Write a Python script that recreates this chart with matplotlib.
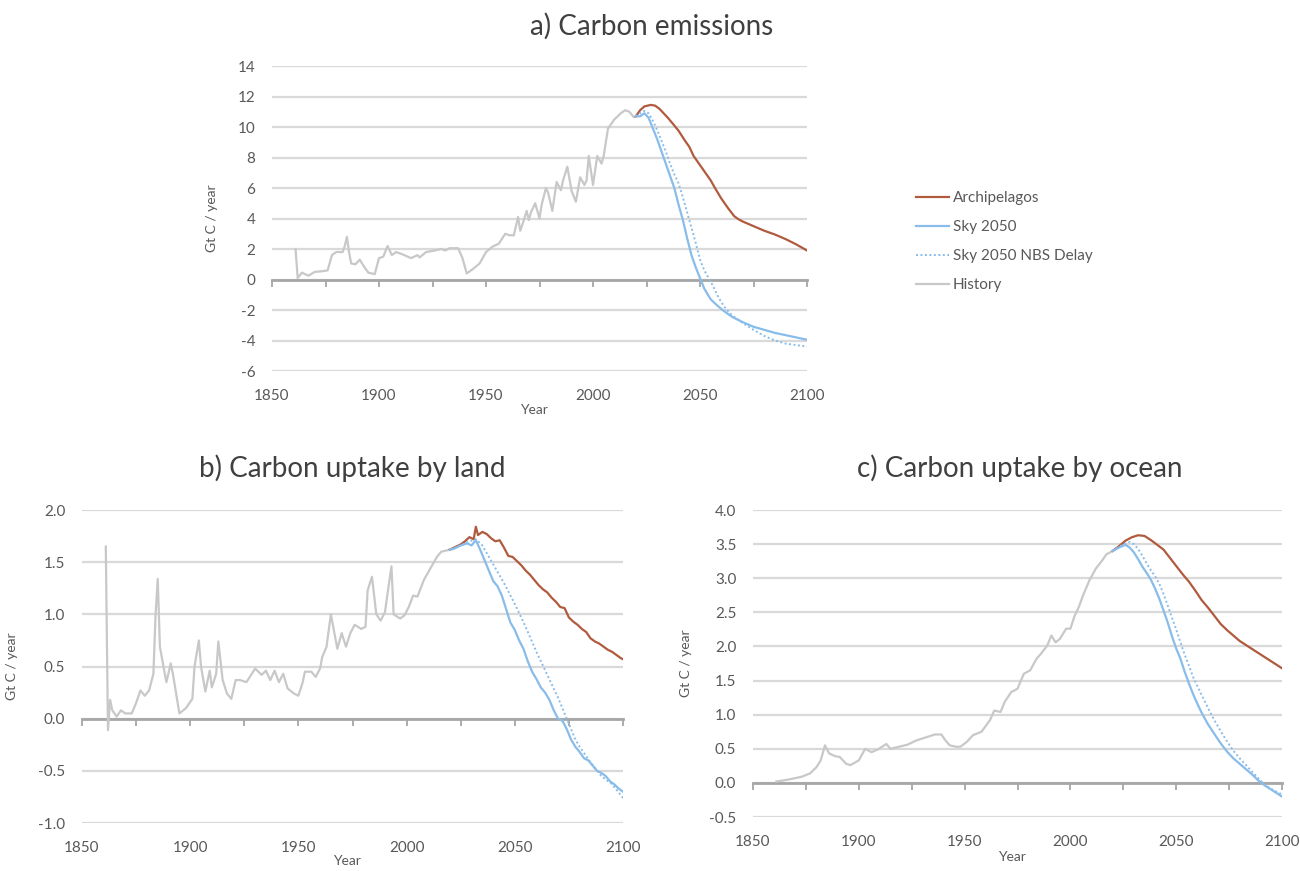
import matplotlib
matplotlib.use('Agg')
import matplotlib.pyplot as plt
from matplotlib.ticker import MultipleLocator, FormatStrFormatter
from matplotlib.lines import Line2D

plt.rcParams['font.family'] = ['Lato', 'DejaVu Sans']
plt.rcParams['axes.unicode_minus'] = False

# ---------------- data: a) Carbon emissions ----------------
hist_a_years = [1861, 1862, 1864, 1867, 1870, 1874, 1876, 1878, 1880, 1883, 1884, 1885, 1886, 1887,
                1889, 1891, 1893, 1895, 1898, 1900, 1902, 1904, 1906, 1908, 1911, 1915, 1918, 1919,
                1922, 1926, 1929, 1931, 1933, 1937, 1939, 1941, 1944, 1947, 1950, 1953, 1956, 1959,
                1961, 1963, 1964, 1965, 1966, 1967, 1969, 1970, 1971, 1973, 1975, 1976, 1978, 1979,
                1981, 1983, 1985, 1986, 1988, 1990, 1992, 1994, 1996, 1997, 1998, 2000, 2002, 2004,
                2005, 2007, 2010, 2013, 2015, 2017, 2019, 2020]
hist_a = [2.0, 0.1, 0.45, 0.25, 0.5, 0.55, 0.6, 1.6, 1.8, 1.8, 2.2, 2.8, 1.8, 1.05,
          1.0, 1.3, 0.85, 0.45, 0.35, 1.4, 1.5, 2.2, 1.6, 1.8, 1.65, 1.4, 1.6, 1.45,
          1.8, 1.9, 2.0, 1.9, 2.05, 2.05, 1.4, 0.4, 0.7, 1.05, 1.8, 2.15, 2.35, 3.0,
          2.9, 2.9, 3.5, 4.1, 3.2, 3.6, 4.5, 3.9, 4.4, 5.0, 4.0, 4.9, 6.0, 5.7,
          4.5, 6.4, 5.85, 6.5, 7.4, 5.8, 5.1, 6.7, 6.2, 6.5, 8.1, 6.2, 8.1, 7.6,
          8.1, 9.9, 10.5, 10.9, 11.1, 11.0, 10.65, 10.7]

arch_a_years = [2020, 2022, 2024, 2027, 2029, 2031, 2033, 2035, 2038, 2040, 2043, 2045, 2047, 2050,
                2053, 2055, 2057, 2060, 2063, 2066, 2068, 2070, 2075, 2080, 2085, 2090, 2095, 2100]
arch_a = [10.7, 11.1, 11.35, 11.45, 11.4, 11.2, 10.9, 10.6, 10.1, 9.75, 9.1, 8.7, 8.1, 7.5,
          6.9, 6.5, 6.0, 5.3, 4.7, 4.15, 3.95, 3.8, 3.5, 3.2, 2.95, 2.65, 2.3, 1.9]

sky_a_years = [2020, 2022, 2024, 2026, 2028, 2030, 2032, 2034, 2036, 2038, 2040, 2042, 2044, 2046,
               2048, 2050, 2052, 2055, 2058, 2061, 2065, 2070, 2075, 2080, 2085, 2090, 2095, 2100]
sky_a = [10.7, 10.7, 10.9, 10.6, 9.9, 9.2, 8.4, 7.6, 6.8, 6.0, 4.9, 3.9, 2.7, 1.6,
         0.8, 0.1, -0.6, -1.3, -1.7, -2.05, -2.45, -2.8, -3.1, -3.3, -3.5, -3.65, -3.8, -3.95]

nbs_a_years = [2020, 2022, 2024, 2026, 2028, 2030, 2032, 2034, 2036, 2038, 2040, 2042, 2044, 2046,
               2048, 2050, 2052, 2054, 2056, 2058, 2060, 2062, 2065, 2070, 2075, 2080, 2085, 2090,
               2095, 2100]
nbs_a = [10.7, 10.9, 11.05, 10.9, 10.4, 9.8, 9.1, 8.4, 7.6, 6.9, 6.3, 5.4, 4.4, 3.4,
         2.4, 1.3, 0.6, 0.1, -0.4, -1.0, -1.5, -1.9, -2.35, -2.85, -3.3, -3.7, -4.0, -4.2,
         -4.3, -4.4]

# ---------------- data: b) Carbon uptake by land ----------------
hist_b_years = [1861, 1862, 1863, 1864, 1866, 1868, 1870, 1873, 1875, 1877, 1879, 1881, 1883, 1884,
                1885, 1886, 1888, 1889, 1891, 1892, 1895, 1898, 1901, 1902, 1904, 1905, 1907, 1909,
                1910, 1912, 1913, 1915, 1917, 1919, 1921, 1923, 1926, 1930, 1933, 1935, 1937, 1939,
                1941, 1943, 1945, 1948, 1950, 1952, 1953, 1956, 1958, 1960, 1961, 1963, 1965, 1967,
                1968, 1970, 1972, 1974, 1976, 1979, 1981, 1982, 1984, 1986, 1988, 1990, 1991, 1993,
                1994, 1997, 1999, 2001, 2003, 2005, 2008, 2011, 2014, 2016, 2020]
hist_b = [1.65, -0.11, 0.18, 0.08, 0.02, 0.08, 0.05, 0.05, 0.15, 0.27, 0.22, 0.27, 0.43, 1.0,
          1.34, 0.69, 0.46, 0.35, 0.53, 0.43, 0.05, 0.1, 0.19, 0.5, 0.75, 0.5, 0.26, 0.46,
          0.3, 0.43, 0.74, 0.37, 0.24, 0.19, 0.37, 0.37, 0.35, 0.48, 0.42, 0.46, 0.37, 0.46,
          0.35, 0.43, 0.29, 0.24, 0.22, 0.35, 0.45, 0.45, 0.4, 0.48, 0.59, 0.69, 1.0, 0.78,
          0.67, 0.82, 0.69, 0.82, 0.9, 0.86, 0.88, 1.23, 1.36, 1.0, 0.94, 1.02, 1.17, 1.46,
          1.0, 0.96, 0.99, 1.07, 1.18, 1.17, 1.33, 1.44, 1.55, 1.6, 1.62]

arch_b_years = [2020, 2022, 2025, 2027, 2029, 2031, 2032, 2033, 2035, 2037, 2039, 2041, 2043, 2045,
                2047, 2049, 2051, 2053, 2055, 2057, 2059, 2061, 2063, 2065, 2067, 2069, 2071, 2073,
                2075, 2077, 2079, 2081, 2083, 2085, 2087, 2089, 2091, 2093, 2095, 2097, 2099, 2100]
arch_b = [1.62, 1.64, 1.67, 1.70, 1.74, 1.72, 1.84, 1.76, 1.79, 1.77, 1.73, 1.70, 1.71, 1.64,
          1.56, 1.55, 1.51, 1.47, 1.42, 1.38, 1.33, 1.28, 1.24, 1.21, 1.16, 1.12, 1.07, 1.06,
          0.97, 0.93, 0.90, 0.86, 0.83, 0.77, 0.74, 0.72, 0.69, 0.66, 0.64, 0.61, 0.58, 0.57]

sky_b_years = [2020, 2022, 2025, 2028, 2030, 2032, 2034, 2036, 2038, 2040, 2042, 2044, 2046, 2048,
               2050, 2052, 2054, 2056, 2058, 2060, 2062, 2064, 2066, 2068, 2070, 2072, 2074, 2076,
               2078, 2080, 2082, 2084, 2086, 2088, 2090, 2092, 2094, 2096, 2098, 2100]
sky_b = [1.62, 1.63, 1.66, 1.68, 1.66, 1.71, 1.62, 1.52, 1.42, 1.32, 1.27, 1.18, 1.05, 0.92,
         0.85, 0.75, 0.67, 0.55, 0.45, 0.38, 0.30, 0.25, 0.18, 0.08, 0.0, -0.02, -0.10, -0.20,
         -0.27, -0.32, -0.38, -0.40, -0.45, -0.50, -0.52, -0.55, -0.60, -0.63, -0.67, -0.70]

nbs_b_years = [2020, 2025, 2029, 2032, 2035, 2040, 2045, 2050, 2055, 2060, 2065, 2070, 2073, 2075,
               2078, 2080, 2085, 2090, 2095, 2100]
nbs_b = [1.62, 1.66, 1.70, 1.72, 1.66, 1.48, 1.30, 1.10, 0.88, 0.64, 0.42, 0.20, 0.05, -0.05,
         -0.20, -0.27, -0.42, -0.55, -0.63, -0.76]

# ---------------- data: c) Carbon uptake by ocean ----------------
hist_c_years = [1861, 1867, 1873, 1877, 1880, 1882, 1884, 1886, 1889, 1891, 1894, 1896, 1900, 1903,
                1906, 1909, 1911, 1913, 1915, 1919, 1923, 1927, 1932, 1936, 1939, 1941, 1943, 1946,
                1948, 1951, 1954, 1958, 1962, 1964, 1967, 1969, 1972, 1975, 1978, 1981, 1984, 1986,
                1989, 1991, 1993, 1995, 1998, 2000, 2002, 2004, 2006, 2009, 2012, 2015, 2017, 2020]
hist_c = [0.02, 0.05, 0.09, 0.14, 0.23, 0.33, 0.55, 0.43, 0.39, 0.38, 0.28, 0.26, 0.33, 0.50,
          0.45, 0.49, 0.53, 0.57, 0.50, 0.53, 0.56, 0.62, 0.67, 0.71, 0.71, 0.62, 0.55, 0.53,
          0.53, 0.60, 0.70, 0.75, 0.92, 1.06, 1.04, 1.19, 1.33, 1.38, 1.60, 1.65, 1.82, 1.89,
          2.01, 2.16, 2.06, 2.11, 2.26, 2.26, 2.45, 2.58, 2.75, 2.97, 3.14, 3.26, 3.35, 3.40]

arch_c_years = [2020, 2023, 2026, 2029, 2032, 2035, 2038, 2041, 2044, 2047, 2050, 2053, 2056, 2059,
                2062, 2065, 2068, 2071, 2074, 2077, 2080, 2083, 2086, 2089, 2092, 2095, 2098, 2100]
arch_c = [3.40, 3.47, 3.55, 3.60, 3.63, 3.62, 3.56, 3.49, 3.42, 3.30, 3.18, 3.06, 2.95, 2.82,
          2.68, 2.57, 2.45, 2.33, 2.24, 2.16, 2.08, 2.02, 1.96, 1.90, 1.84, 1.78, 1.72, 1.68]

sky_c_years = [2020, 2023, 2026, 2028, 2030, 2032, 2034, 2036, 2038, 2040, 2042, 2044, 2046, 2048,
               2050, 2052, 2054, 2056, 2058, 2060, 2062, 2065, 2068, 2071, 2074, 2077, 2080, 2083,
               2086, 2089, 2092, 2095, 2098, 2100]
sky_c = [3.40, 3.45, 3.49, 3.45, 3.38, 3.28, 3.17, 3.08, 2.98, 2.85, 2.70, 2.53, 2.35, 2.15,
         1.97, 1.82, 1.63, 1.46, 1.30, 1.16, 1.03, 0.86, 0.72, 0.58, 0.46, 0.36, 0.28, 0.20,
         0.12, 0.03, -0.04, -0.10, -0.16, -0.20]

nbs_c_years = [2020, 2023, 2026, 2028, 2030, 2032, 2034, 2036, 2038, 2040, 2042, 2044, 2046, 2048,
               2050, 2052, 2054, 2056, 2058, 2060, 2062, 2065, 2068, 2071, 2074, 2077, 2080, 2083,
               2086, 2089, 2092, 2095, 2098, 2100]
nbs_c = [3.40, 3.46, 3.51, 3.53, 3.50, 3.43, 3.33, 3.22, 3.12, 3.03, 2.92, 2.77, 2.60, 2.42,
         2.25, 2.06, 1.88, 1.72, 1.55, 1.42, 1.29, 1.10, 0.92, 0.76, 0.61, 0.47, 0.36, 0.26,
         0.16, 0.06, -0.03, -0.09, -0.14, -0.17]

series_labels = ['Archipelagos', 'Sky 2050', 'Sky 2050 NBS Delay', 'History']
titles = ['a) Carbon emissions', 'b) Carbon uptake by land', 'c) Carbon uptake by ocean']
x_ticks = [1850, 1900, 1950, 2000, 2050, 2100]

# ---------------- styling ----------------
C_HIST = '#c8c8c8'
C_ARCH = '#b05a3e'
C_SKY = '#88bcea'
C_TXT = '#595959'
C_GRID = '#d9d9d9'
C_AXIS = '#a6a6a6'
LW = 1.6

W, H = 1300, 871
fig = plt.figure(figsize=(W / 100, H / 100), dpi=100)


def px_axes(x0, x1, ytop, ybot):
    return fig.add_axes([x0 / W, 1 - ybot / H, (x1 - x0) / W, (ybot - ytop) / H])


def style(ax, ylim, ystep, fmt, ylab_x, xlab_y):
    ax.set_xlim(1850, 2100)
    ax.set_ylim(*ylim)
    ax.yaxis.set_major_locator(MultipleLocator(ystep))
    ax.yaxis.set_major_formatter(FormatStrFormatter(fmt))
    ax.grid(axis='y', color=C_GRID, lw=1.6)
    ax.set_axisbelow(True)
    for s in ['top', 'right', 'left']:
        ax.spines[s].set_visible(False)
    ax.spines['bottom'].set_position(('data', 0))
    ax.spines['bottom'].set_color(C_AXIS)
    ax.spines['bottom'].set_linewidth(2.0)
    ax.spines['bottom'].set_zorder(2.5)
    ax.xaxis.set_major_locator(MultipleLocator(25))
    ax.tick_params(axis='x', direction='out', length=5, width=1.3, color=C_AXIS,
                   labelbottom=False)
    ax.tick_params(axis='y', length=0, pad=12, labelsize=11, labelcolor=C_TXT)
    sec = ax.secondary_xaxis('bottom')
    sec.set_xticks(x_ticks)
    sec.tick_params(length=0, pad=13, labelsize=11, labelcolor=C_TXT)
    sec.spines['bottom'].set_visible(False)
    ax.set_ylabel('Gt C / year', fontsize=10, color=C_TXT)
    ax.yaxis.set_label_coords(ylab_x, 0.5)
    ax.text(0.49, xlab_y, 'Year', transform=ax.transAxes, fontsize=10, color=C_TXT,
            ha='center', va='center')


def draw(ax, hy, hv, ay, av, sy, sv, ny, nv):
    ax.plot(hy, hv, color=C_HIST, lw=LW, zorder=3)
    ax.plot(ay, av, color=C_ARCH, lw=LW, zorder=4)
    ax.plot(sy, sv, color=C_SKY, lw=LW, zorder=4)
    ax.plot(ny, nv, color=C_SKY, lw=1.4, ls=(0, (1, 1.3)), zorder=5)


ax_a = px_axes(272, 807, 66, 371)
style(ax_a, (-6, 14), 2, '%d', -0.101, -0.128)
draw(ax_a, hist_a_years, hist_a, arch_a_years, arch_a, sky_a_years, sky_a, nbs_a_years, nbs_a)

ax_b = px_axes(82, 623, 510, 823)
style(ax_b, (-1.0, 2.0), 0.5, '%.1f', -0.118, -0.122)
draw(ax_b, hist_b_years, hist_b, arch_b_years, arch_b, sky_b_years, sky_b, nbs_b_years, nbs_b)

ax_c = px_axes(753, 1282, 510, 817)
style(ax_c, (-0.5, 4.0), 0.5, '%.1f', -0.115, -0.13)
draw(ax_c, hist_c_years, hist_c, arch_c_years, arch_c, sky_c_years, sky_c, nbs_c_years, nbs_c)

# titles
fig.text(652 / W, 1 - 35 / H, titles[0], fontsize=20, color='#404040', ha='center', va='baseline')
fig.text(352 / W, 1 - 477 / H, titles[1], fontsize=20, color='#404040', ha='center', va='baseline')
fig.text(1020 / W, 1 - 477 / H, titles[2], fontsize=20, color='#404040', ha='center', va='baseline')

# legend
handles = [Line2D([], [], color=C_ARCH, lw=LW),
           Line2D([], [], color=C_SKY, lw=LW),
           Line2D([], [], color=C_SKY, lw=1.4, ls=(0, (1, 1.3))),
           Line2D([], [], color=C_HIST, lw=LW)]
fig.legend(handles, series_labels, loc='upper left', bbox_to_anchor=(916 / W, 1 - 191 / H),
           frameon=False, fontsize=11, labelcolor=C_TXT, handlelength=2.15,
           handletextpad=0.25, labelspacing=0.98, borderpad=0, borderaxespad=0)

fig.savefig('out.png', dpi=100)
